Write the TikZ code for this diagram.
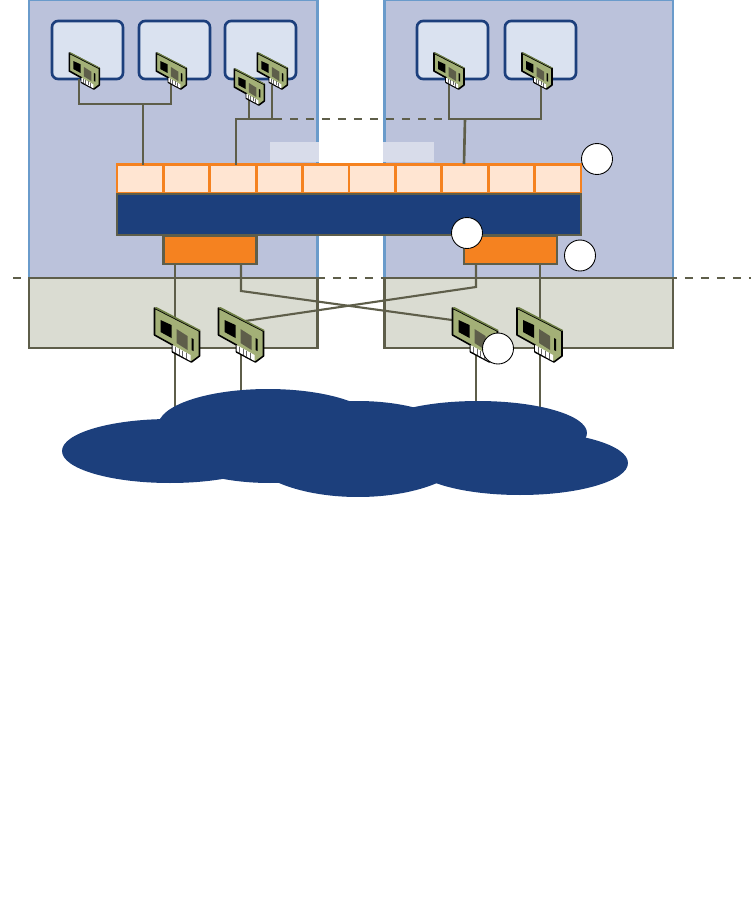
\documentclass[tikz,border=0pt]{standalone}
\usetikzlibrary{shapes.geometric}

\definecolor{hostColour}{HTML}{BBC2DB}
\definecolor{hostBorder}{HTML}{6A9BCB}
\definecolor{lowerColour}{HTML}{DADCD2}
\definecolor{lineColour}{HTML}{5E5E4A}
\definecolor{vmColour}{HTML}{DAE2F0}
\definecolor{navyColour}{HTML}{1C3F7C}
\definecolor{portColour}{HTML}{FFE5D2}
\definecolor{orangeColour}{HTML}{F58220}
\definecolor{tagColour}{HTML}{D8DCEA}
\definecolor{cardColour}{HTML}{A3B077}
\definecolor{cardEdge}{HTML}{6E7F45}

\tikzset{
    hostbox/.style={draw=hostBorder, fill=hostColour, line width=1.5pt, inner sep=0pt, outer sep=0pt, anchor=north west, minimum width=5.77cm, minimum height=5.56cm},
    lowerbox/.style={draw=lineColour, fill=lowerColour, line width=1.5pt, inner sep=0pt, outer sep=0pt, anchor=north west, minimum width=5.77cm, minimum height=1.4cm},
    vmbox/.style={draw=navyColour, fill=vmColour, line width=1.5pt, rounded corners=3.5pt, inner sep=0pt, outer sep=0pt, anchor=north west, minimum width=1.42cm, minimum height=1.16cm},
    portbox/.style={draw=orangeColour, fill=portColour, line width=1.5pt, inner sep=0pt, outer sep=0pt, anchor=north west, minimum width=0.928cm, minimum height=0.58cm},
    barbox/.style={draw=lineColour, fill=navyColour, line width=1.5pt, inner sep=0pt, outer sep=0pt, anchor=north west, minimum width=9.28cm, minimum height=0.82cm},
    uplinkbox/.style={draw=lineColour, fill=orangeColour, line width=1.5pt, inner sep=0pt, outer sep=0pt, anchor=north west, minimum width=1.86cm, minimum height=0.56cm},
    tagbox/.style={fill=tagColour, inner sep=0pt, outer sep=0pt, anchor=north west, minimum height=0.39cm},
    badge/.style={circle, draw=black, fill=white, line width=0.5pt, inner sep=0pt, minimum size=0.62cm},
    blob/.style={ellipse, fill=navyColour, inner sep=0pt},
    link/.style={draw=lineColour, line width=1.5pt},
    thinlink/.style={draw=lineColour, line width=1.2pt},
    nic/.pic={
        \filldraw[fill=cardColour, draw=black, line width=0.9pt, line join=round]
            (0,0) -- (45,23) -- (45,48) -- (37,54) -- (18,44) -- (18,37) -- (0,27) -- cycle;
        \fill[cardEdge] (0,0) -- (2,-1) -- (46,22) -- (45,23) -- cycle;
        \fill[black] (6,12) -- (17,17) -- (17,30) -- (6,24) -- cycle;
        \fill[lineColour] (22,21) -- (33,28) -- (33,42) -- (22,35) -- cycle;
        \fill[black] (37,30) -- (39,31) -- (39,43) -- (37,42) -- cycle;
        \fill[white] (18,37) -- (36,47) -- (36,53) -- (18,43) -- cycle;
        \foreach \s in {0,1,2,3} \draw[black!60, line width=0.3pt] (21+3.6*\s,38.5+2*\s) -- +(0,6);
    }
}

\begin{document}
\begin{tikzpicture}[x=0.02cm, y=-0.02cm]
    \useasboundingbox (0,0) rectangle (751,907);

    % Hosts
    \node[hostbox] (hostL) at (29,0) {};
    \node[hostbox] (hostR) at (384.5,0) {};
    \node[lowerbox] (lowerL) at (29,278) {};
    \node[lowerbox] (lowerR) at (384.5,278) {};
    \node[tagbox, minimum width=0.98cm] (tagL) at (270,142) {};
    \node[tagbox, minimum width=1.02cm] (tagR) at (383,142) {};

    % Guests
    \node[vmbox] (vmA) at (52,21) {};
    \node[vmbox] (vmB) at (139,21) {};
    \node[vmbox] (vmC) at (225,21) {};
    \node[vmbox] (vmD) at (417,21) {};
    \node[vmbox] (vmE) at (505,21) {};

    % Switch
    \foreach \i in {1,...,10}
        \node[portbox] (port\i) at ({117+46.4*(\i-1)},164.5) {};
    \node[barbox] (bar) at (117,194) {};
    \node[uplinkbox] (uplinkL) at (163.5,236) {};
    \node[uplinkbox] (uplinkR) at (464,236) {};

    % Card tails and bus points
    \coordinate (tailA) at (79,79);
    \coordinate (tailB) at (171,79);
    \coordinate (tailC) at (249,100);
    \coordinate (tailD) at (272,85);
    \coordinate (tailE) at (449,79);
    \coordinate (tailF) at (541,79);
    \coordinate (busA) at (143,104);
    \coordinate (busC) at (236,119);
    \coordinate (busE) at (465,119);
    \coordinate (dashL) at (282,119);
    \coordinate (dashR) at (449,119);
    \coordinate (edgeL) at (13,278);
    \coordinate (edgeR) at (751,278);

    % Guest links
    \draw[link] (tailA) |- (busA) -| (tailB);
    \draw[link] (busA) -- (busA |- port1.north);
    \draw[link] (tailD) |- (busC) -- (busC |- port3.north);
    \draw[link] (busC) -- (dashL);
    \draw[link] (tailC) -- (tailC |- busC);
    \draw[link] (tailE) |- (busE) -| (tailF);
    \draw[link] (busE) -- (464,164);
    \draw[link, dash pattern=on 0.16cm off 0.16cm, dash phase=0.16cm] (dashL) -- (dashR);

    % Uplinks
    \draw[dash pattern=on 0.16cm off 0.16cm, line width=1.6pt, lineColour] (edgeL) -- (edgeR);
    \coordinate (dropA) at (175,420);
    \coordinate (dropB) at (241,420);
    \coordinate (dropC) at (476,420);
    \coordinate (dropD) at (540,420);
    \coordinate (bendB) at (241,291);
    \coordinate (bendC) at (476,287);
    \coordinate (landB) at (245,321);
    \coordinate (landC) at (452,320);
    \draw[link] (dropA |- uplinkL.south) -- (dropA);
    \draw[thinlink] (dropB |- uplinkL.south) -- (bendB) -- (landC);
    \draw[thinlink] (bendC |- uplinkR.south) -- (bendC) -- (landB);
    \draw[thinlink] (dropD |- uplinkR.south) -- (dropD);
    \draw[link] (landB -| dropB) -- (dropB);
    \draw[link] (landC -| dropC) -- (dropC);

    % Cloud
    \node[blob, minimum width=4.32cm, minimum height=1.28cm] (cloudA) at (170,451) {};
    \node[blob, minimum width=4.4cm, minimum height=1.48cm] (cloudB) at (268,426) {};
    \node[blob, minimum width=4cm, minimum height=1.4cm] (cloudF) at (270,448) {};
    \node[blob, minimum width=4.48cm, minimum height=1.92cm] (cloudC) at (358,449) {};
    \node[blob, minimum width=4.36cm, minimum height=1.28cm] (cloudD) at (478,433) {};
    \node[blob, minimum width=4.32cm, minimum height=1.28cm] (cloudE) at (520,463) {};

    % Cards
    \pic[scale=0.667] (cardA) at (69.3,53) {nic};
    \pic[scale=0.667] (cardB) at (156.3,53) {nic};
    \pic[scale=0.667] (cardC) at (234.3,69) {nic};
    \pic[scale=0.667] (cardD) at (257.3,53) {nic};
    \pic[scale=0.667] (cardE) at (434,53) {nic};
    \pic[scale=0.667] (cardF) at (522,53) {nic};
    \pic (cardG) at (154.5,308) {nic};
    \pic (cardH) at (218.5,308) {nic};
    \pic (cardI) at (452.5,308) {nic};
    \pic (cardJ) at (517,308) {nic};

    % Markers
    \node[badge] (markA) at (597,159) {};
    \node[badge] (markB) at (467,233) {};
    \node[badge] (markC) at (580,255.5) {};
    \node[badge] (markD) at (498,348.5) {};
\end{tikzpicture}
\end{document}
